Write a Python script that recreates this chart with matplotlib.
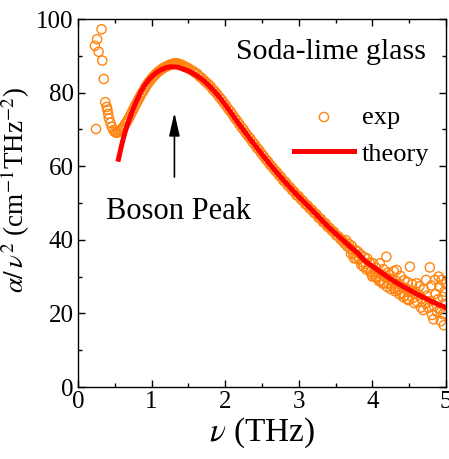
import numpy as np
import matplotlib
matplotlib.use("Agg")
import matplotlib.pyplot as plt
from matplotlib.ticker import MultipleLocator

plt.rcParams['font.family'] = ['Liberation Serif', 'DejaVu Serif']
plt.rcParams['mathtext.fontset'] = 'stix'

exp_nu = [0.23, 0.245, 0.26, 0.28, 0.32, 0.33, 0.35, 0.37, 0.39, 0.40, 0.41, 0.42, 0.44, 0.46, 0.48,
          0.50, 0.52, 0.54, 0.56,
          0.58, 0.60, 0.62, 0.64, 0.66, 0.68, 0.70, 0.72, 0.74, 0.76, 0.78, 0.80, 0.82, 0.84, 0.86,
          0.88, 0.90, 0.92, 0.94, 0.96, 0.98, 1.00, 1.02, 1.04, 1.06, 1.08, 1.10, 1.12, 1.14, 1.16,
          1.18, 1.20, 1.22, 1.24, 1.26, 1.28, 1.30, 1.32, 1.34, 1.36, 1.38, 1.40, 1.42, 1.44, 1.46,
          1.48, 1.50,
          1.53, 1.56, 1.59, 1.62, 1.65, 1.68, 1.71, 1.74, 1.77, 1.80, 1.83, 1.86, 1.89, 1.92, 1.95,
          1.98, 2.01, 2.04, 2.07, 2.10, 2.13, 2.16, 2.19, 2.22, 2.25, 2.28, 2.31, 2.34, 2.37, 2.40,
          2.43, 2.46, 2.49, 2.52, 2.55, 2.58, 2.61, 2.64, 2.67, 2.70, 2.73, 2.76, 2.79, 2.82, 2.85,
          2.88, 2.91, 2.94, 2.97, 3.00, 3.03, 3.06, 3.09, 3.12, 3.15, 3.18, 3.21, 3.24, 3.27, 3.30,
          3.33, 3.36, 3.39, 3.42, 3.45, 3.48, 3.51, 3.54, 3.57, 3.60,
          3.62, 3.64, 3.66, 3.68, 3.70, 3.72, 3.74, 3.75, 3.77, 3.79, 3.80, 3.82, 3.84, 3.86, 3.88,
          3.89, 3.91, 3.93, 3.94, 3.96, 3.98, 4.00, 4.01, 4.03, 4.05, 4.06, 4.08, 4.10, 4.11, 4.13,
          4.15, 4.16, 4.18, 4.19, 4.21, 4.22, 4.24, 4.26, 4.27, 4.29, 4.30, 4.32, 4.33, 4.35, 4.36,
          4.38, 4.40, 4.41, 4.43, 4.44, 4.46, 4.48, 4.49, 4.51, 4.52, 4.54, 4.55, 4.57, 4.58, 4.60,
          4.61, 4.63, 4.64, 4.66, 4.67, 4.69, 4.70, 4.72, 4.73, 4.74, 4.76, 4.78, 4.79, 4.80, 4.81,
          4.83, 4.84, 4.85, 4.86, 4.88, 4.89, 4.90, 4.91, 4.92, 4.93, 4.94, 4.95, 4.96, 4.97, 4.98,
          4.99, 5.00,
          3.71, 3.78, 3.85, 3.92, 3.99, 4.04, 4.09, 4.14, 4.20, 4.25, 4.31, 4.37, 4.42, 4.47]
exp_alpha = [92.7, 70.1, 94.5, 91.1, 97.2, 88.7, 83.7, 77.4, 76.1, 75.3, 74.2, 73.0, 71.8, 70.7, 69.8,
             69.3, 69.1, 69.2, 69.5,
             69.9, 70.3, 70.8, 71.4, 72.0, 72.7, 73.4, 74.2, 75.0, 75.8, 76.6, 77.3, 78.1, 78.8, 79.6,
             80.2, 80.9, 81.6, 82.2, 82.8, 83.3, 83.8, 84.3, 84.7, 85.1, 85.5, 85.8, 86.1, 86.4, 86.7,
             86.9, 87.1, 87.3, 87.5, 87.6, 87.8, 87.9, 88.0, 87.9, 87.9, 87.7, 87.6, 87.4, 87.2, 87.0,
             86.8, 86.6,
             86.2, 85.9, 85.4, 85.1, 84.4, 84.0, 83.4, 82.8, 82.3, 81.7, 80.9, 80.3, 79.6, 78.8, 78.1,
             77.3, 76.5, 75.6, 74.9, 74.0, 73.1, 72.4, 71.5, 70.6, 69.9, 69.0, 68.2, 67.5, 66.6, 65.9,
             65.0, 64.4, 63.5, 62.8, 61.9, 61.3, 60.4, 59.8, 59.0, 58.4, 57.6, 57.0, 56.1, 55.7, 54.8,
             54.3, 53.5, 53.0, 52.1, 51.8, 51.0, 50.5, 49.7, 49.3, 48.5, 48.1, 47.3, 46.9, 46.0, 45.7,
             44.8, 44.5, 43.6, 43.2, 42.5, 42.1, 41.2, 40.9, 40.1, 39.7,
             39.0, 39.9, 38.2, 38.9, 37.6, 38.3, 36.3, 35.0, 37.2, 35.6, 36.8, 34.8, 36.0, 33.9, 32.7,
             35.3, 33.5, 34.9, 32.2, 33.8, 31.3, 30.0, 33.6, 31.2, 32.4, 29.7, 31.0, 33.6, 28.9, 30.6,
             32.0, 28.2, 29.8, 35.4, 31.1, 28.2, 30.4, 27.6, 29.2, 31.5, 26.8, 28.9, 31.8, 26.4, 28.0,
             30.2, 25.5, 27.2, 29.0, 24.9, 26.8, 28.5, 23.6, 32.7, 26.0, 27.9, 24.2, 22.8, 25.6, 28.2,
             23.1, 25.0, 27.4, 21.6, 24.0, 20.9, 26.5, 22.7, 29.1, 24.8, 21.5, 32.5, 23.4, 27.6, 19.6,
             18.4, 22.0, 29.1, 25.3, 20.4, 23.8, 30.0, 27.2, 21.2, 17.9, 29.1, 24.5, 19.8, 16.8, 25.9,
             22.6, 28.0,
             36.2, 34.9, 33.2, 31.9, 30.6, 29.9, 28.8, 28.1, 27.2, 26.6, 26.0, 25.2, 24.4, 24.0]

# theory curve
theory_nu = [0.55, 0.58, 0.61, 0.64, 0.67, 0.70, 0.75, 0.80, 0.85, 0.90, 0.95, 1.00, 1.05, 1.10,
             1.15, 1.20, 1.25, 1.30, 1.35, 1.40, 1.50, 1.60,
             1.70, 1.80, 1.90, 2.00, 2.10, 2.20, 2.30, 2.40, 2.50, 2.60, 2.70, 2.80, 2.90, 3.00,
             3.10, 3.20, 3.30, 3.40, 3.50, 3.60, 3.70, 3.80, 3.90, 4.00, 4.10, 4.20, 4.30, 4.40,
             4.50, 4.60, 4.70, 4.80, 4.90, 5.00]
theory_alpha = [61.9, 64.6, 67.1, 69.3, 71.2, 72.9, 75.6, 77.9, 80.0, 81.8, 83.2, 84.3, 85.2, 85.9,
                86.4, 86.8, 87.0, 87.0, 86.9, 86.6, 85.9, 84.8,
                83.4, 81.5, 79.3, 76.7, 73.9, 71.1, 68.4, 65.8, 63.2, 60.7, 58.3, 56.0, 53.8, 51.7,
                49.7, 47.7, 45.6, 43.5, 41.7, 39.9, 38.1, 36.4, 34.2, 32.8, 31.4, 30.0, 28.7, 27.5,
                26.4, 25.3, 24.3, 23.3, 22.4, 21.6]

fig = plt.figure(figsize=(4.49, 4.59), dpi=100)
ax = fig.add_axes([78/449, 72/459, 368/449, 368/459])

ax.scatter(exp_nu, exp_alpha, s=44, facecolors='none', edgecolors='#ff8410',
           linewidths=1.0, label='exp', zorder=2)
ax.plot(theory_nu, theory_alpha, color='#ff0000', lw=3.6, label='theory', zorder=3)

ax.set_xlim(0, 5)
ax.set_ylim(0, 100)
ax.xaxis.set_major_locator(MultipleLocator(1))
ax.xaxis.set_minor_locator(MultipleLocator(0.5))
ax.yaxis.set_major_locator(MultipleLocator(20))
ax.yaxis.set_minor_locator(MultipleLocator(10))
ax.tick_params(which='both', direction='in', top=True, right=True, labelsize=18, pad=3)
ax.tick_params(which='major', length=5, width=1)
ax.tick_params(which='minor', length=3, width=1)
for s in ax.spines.values():
    s.set_linewidth(1.0)

ax.set_xlabel(r'$\nu$ (THz)', fontsize=24, labelpad=2)
ax.set_ylabel(r'$\alpha/\,\nu^2$ (cm$^{-1}$THz$^{-2}$)', fontsize=19.5)
ax.yaxis.set_label_coords(-0.125, 0.535)

ax.text(3.44, 91, 'Soda-lime glass', fontsize=21.5, ha='center', va='center')
ax.text(1.36, 47.6, 'Boson Peak', fontsize=22, ha='center', va='center')
ax.annotate('', xy=(1.31, 75.3), xytext=(1.31, 56.3),
            arrowprops=dict(arrowstyle='-|>,head_length=0.7,head_width=0.16', color='black',
                            lw=1.2, mutation_scale=20))

ax.legend(loc='upper left', bbox_to_anchor=(0.587, 0.765), frameon=False, fontsize=19,
          handlelength=2.27, handletextpad=0.3, borderpad=0, borderaxespad=0,
          labelspacing=0.5, scatterpoints=1)

plt.savefig('out.png', dpi=100)
